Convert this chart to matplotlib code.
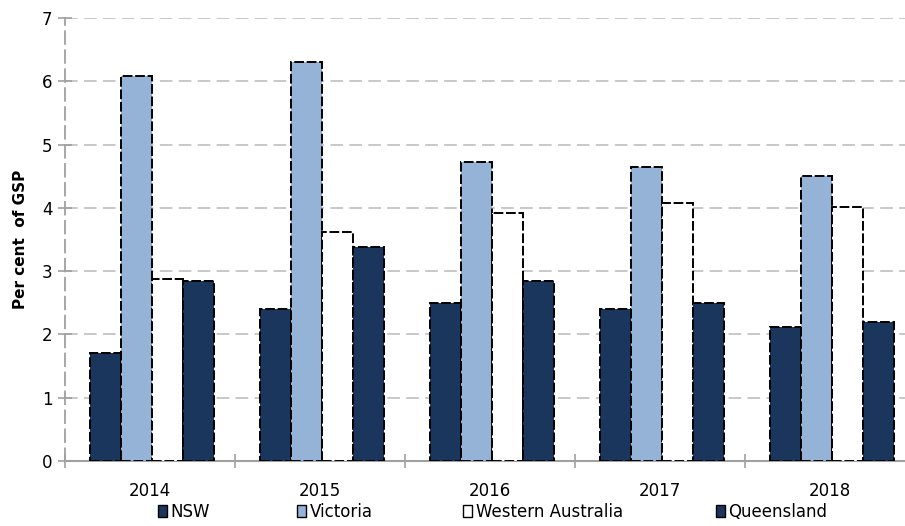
import matplotlib
matplotlib.use("Agg")
import matplotlib.pyplot as plt
import numpy as np
from matplotlib.patches import Patch

years = ["2014", "2015", "2016", "2017", "2018"]
series_names = ["NSW", "Victoria", "Western Australia", "Queensland"]
nsw = [1.71, 2.40, 2.49, 2.40, 2.11]
victoria = [6.08, 6.30, 4.73, 4.64, 4.51]
western_australia = [2.87, 3.62, 3.92, 4.07, 4.01]
queensland = [2.84, 3.38, 2.84, 2.49, 2.20]
colors = ["#1A365D", "#95B3D7", "#FFFFFF", "#1A365D"]

plt.rcParams['font.family'] = ['DejaVu Sans']
fig = plt.figure(figsize=(9.05, 5.26), dpi=100)
ax = fig.add_axes([65/905, 1-461/526, 850/905, (461-18)/526])

x = np.arange(len(years))
w = 0.182
data = [nsw, victoria, western_australia, queensland]
for i, (vals, c) in enumerate(zip(data, colors)):
    ax.bar(x + (i - 1.5) * w + 0.012, vals, width=w, color=c, edgecolor="black",
           linewidth=1.4, linestyle=(0, (5, 1.4)), zorder=3)

ax.set_xlim(-0.5, 4.5)
ax.set_ylim(0, 7)
ax.set_yticks(range(0, 8))
ax.set_xticks(x)
ax.set_xticklabels(years, fontsize=12)
ax.set_xticks(np.arange(-0.5, 5.0, 1.0), minor=True)
ax.tick_params(axis="x", which="major", length=0, pad=15)
ax.tick_params(axis="x", which="minor", length=10, direction="inout", color="#A0A0A0", width=1.2)
ax.tick_params(axis="y", length=10, direction="inout", color="#A0A0A0", width=1.2, labelsize=12, pad=4)
ax.yaxis.grid(True, color="#C4C4C4", linestyle=(0, (7, 3.5)), linewidth=1.3, zorder=0)
ax.set_axisbelow(True)
for s in ["top", "right"]:
    ax.spines[s].set_visible(False)
ax.spines["left"].set_color("#A0A0A0")
ax.spines["left"].set_linestyle((0, (7, 3.5)))
ax.spines["left"].set_linewidth(1.3)
ax.spines["bottom"].set_color("#A0A0A0")
ax.spines["bottom"].set_linewidth(1.5)
ax.set_ylabel("Per cent  of GSP", fontsize=11, fontweight="bold", labelpad=10)

leg_x = [158/905, 297/905, 463/905, 716/905]
for name, c, lx in zip(series_names, colors, leg_x):
    h = Patch(facecolor=c, edgecolor="black", linewidth=1.0)
    lg = fig.legend(handles=[h], labels=[name], loc="center left",
                    bbox_to_anchor=(lx, 1-512/526), frameon=False, fontsize=12,
                    handlelength=0.55, handleheight=0.75, handletextpad=0.2,
                    borderpad=0, borderaxespad=0)

fig.savefig("out.png", dpi=100)
